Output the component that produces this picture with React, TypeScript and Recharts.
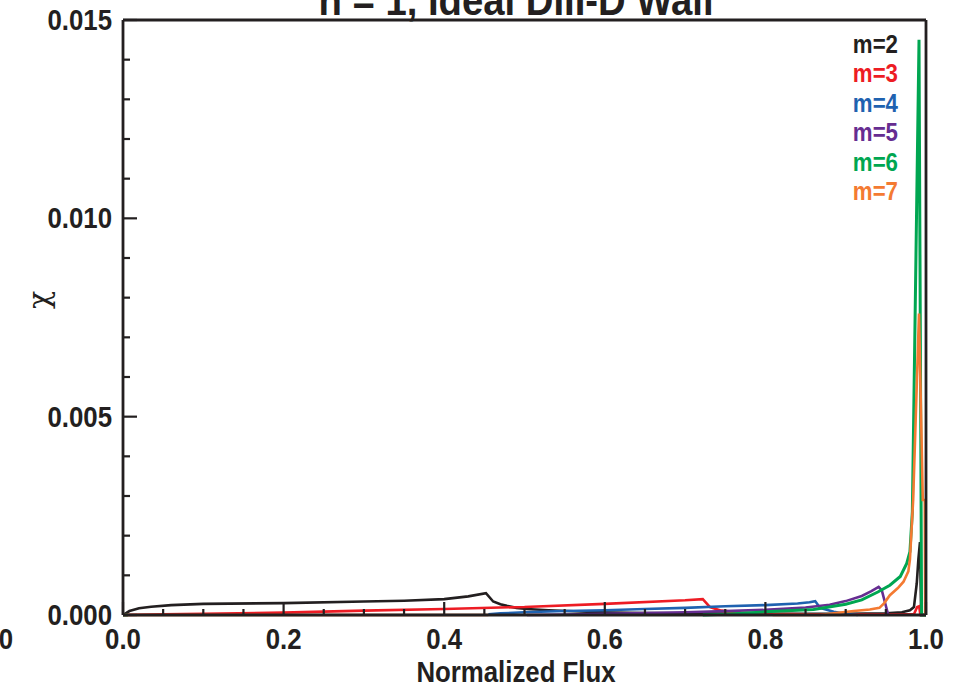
import { LineChart, Line, XAxis, YAxis } from "recharts";

// chi profiles vs normalized flux, one array per poloidal harmonic m
const m2: [number, number | null][] = [
  [0, 0], [0.008, 0.0001], [0.02, 0.00017], [0.035, 0.00021], [0.06, 0.00025],
  [0.1, 0.00028], [0.2, 0.0003], [0.3, 0.00034], [0.35, 0.00036], [0.4, 0.0004],
  [0.43, 0.00047], [0.452, 0.00055], [0.461, 0.00034], [0.47, 0.00027],
  [0.478, 0.00023], [0.49, 0.00018], [0.503, 0.00015], [0.53, 0.00012],
  [0.553, 0.0001], [0.594, 0.00007], [0.65, 0.00005], [0.7, 0.00004],
  [0.8, 0.00003], [0.9, 0.00003], [0.95, 0.00004], [0.97, 0.00007],
  [0.98, 0.00012], [0.985, 0.0002], [0.9885, 0.0008], [0.9905, 0.0014],
  [0.9925, 0.00184], [0.9935, 0.0006], [0.994, 0], [1.0, 0],
];
const m3: [number, number | null][] = [
  [0, 0], [0.05, 0.00002], [0.1, 0.00003], [0.2, 0.00006], [0.3, 0.00011],
  [0.4, 0.00015], [0.47, 0.00019], [0.5, 0.0002], [0.6, 0.00028], [0.7, 0.00037],
  [0.722, 0.0004], [0.731, 0.0002], [0.745, 0.00011], [0.77, 0.00006],
  [0.8, 0.00003], [0.85, 0.00002], [0.9, 0.00002], [0.985, 0.00002],
  [0.989, 0.0002], [0.9915, 0.00022], [0.993, 0], [1.0, 0],
];
const m4: [number, number | null][] = [
  [0.455, 0.00002], [0.47, 0.00004], [0.5, 0.00007], [0.55, 0.0001],
  [0.6, 0.00012], [0.65, 0.00015], [0.7, 0.00018], [0.75, 0.00022],
  [0.8, 0.00025], [0.84, 0.00029], [0.855, 0.00032], [0.862, 0.00035],
  [0.868, 0.00018], [0.885, 0.00008], [0.9, 0.00003], [0.915, 0],
];
const m5: [number, number | null][] = [
  [0.503, 0], [0.55, 0.00001], [0.6, 0.00003], [0.65, 0.00005], [0.7, 0.00007],
  [0.75, 0.0001], [0.8, 0.00013], [0.85, 0.00019], [0.88, 0.00026],
  [0.9, 0.00035], [0.92, 0.00048], [0.932, 0.0006], [0.941, 0.00071],
  [0.945, 0.00062], [0.953, 0],
];
const m6: [number, number | null][] = [
  [0, 0], [0.006, 0], [0.01, null], [0.722, 0], [0.75, 0.00002], [0.8, 0.00008],
  [0.86, 0.00014], [0.9, 0.00027], [0.92, 0.00038], [0.94, 0.00058],
  [0.955, 0.00075], [0.968, 0.00097], [0.976, 0.0013], [0.98, 0.0016],
  [0.983, 0.0026], [0.9913, 0.0145], [0.9945, 0], [1.0, 0],
];
const m7: [number, number | null][] = [
  [0, 0], [0.455, 0], [0.46, null], [0.809, 0], [0.868, 0], [0.885, 0.00004],
  [0.91, 0.0001], [0.93, 0.00014], [0.942, 0.00018], [0.948, 0.0003],
  [0.955, 0.0005], [0.965, 0.00068], [0.972, 0.00084], [0.978, 0.0011],
  [0.98, 0.0014], [0.984, 0.0029], [0.9913, 0.0076], [0.996, 0.0029],
  [0.9985, 0.0029], [0.999, 0],
];

const xTicks = [
  0, 0.05, 0.1, 0.15, 0.2, 0.25, 0.3, 0.35, 0.4, 0.45, 0.5,
  0.55, 0.6, 0.65, 0.7, 0.75, 0.8, 0.85, 0.9, 0.95, 1.0,
];
const xMajor = [0, 0.2, 0.4, 0.6, 0.8, 1.0];
const xLabels = ["0.0", "0.2", "0.4", "0.6", "0.8", "1.0"];
const yTicks = [
  0, 0.001, 0.002, 0.003, 0.004, 0.005, 0.006, 0.007,
  0.008, 0.009, 0.01, 0.011, 0.012, 0.013, 0.014, 0.015,
];
const yMajor = [0, 0.005, 0.01, 0.015];
const yLabels = ["0.000", "0.005", "0.010", "0.015"];

const series = [
  { name: "m=2", data: m2, color: "#231f20", width: 2.6 },
  { name: "m=3", data: m3, color: "#ed1c24", width: 2.6 },
  { name: "m=4", data: m4, color: "#1f62b0", width: 2.6 },
  { name: "m=5", data: m5, color: "#662d91", width: 2.6 },
  { name: "m=6", data: m6, color: "#00a651", width: 3 },
  { name: "m=7", data: m7, color: "#f47a32", width: 2.6 },
];

const W = 963;
const H = 690;
const TOP = 20;
const BOTTOM = 615;
const LEFT = 123;
const RIGHT = 926;
const INK = "#231f20";
const FONT = '"Liberation Sans", Arial, Helvetica, sans-serif';
const SQUEEZE = 0.89;

// bold sans text, narrowed a little like the original Helvetica output
function Narrow(props: any) {
  const { x, y, anchor = "middle", size = 29, children } = props;
  return (
    <text
      transform={`translate(${x} ${y}) scale(${SQUEEZE} 1)`}
      textAnchor={anchor}
      fontFamily={FONT}
      fontWeight="bold"
      fontSize={size}
      fill={INK}
    >
      {children}
    </text>
  );
}

const majorIndex = (v: number, list: number[]) =>
  list.findIndex((m) => Math.abs(m - v) < 1e-9);

function BottomTick(props: any) {
  const { x, payload } = props;
  const i = majorIndex(payload.value, xMajor);
  return (
    <g>
      <line x1={x} x2={x} y1={BOTTOM} y2={BOTTOM - (i >= 0 ? 13 : 6)} stroke={INK} strokeWidth={2.2} />
      {i >= 0 && <Narrow x={x} y={649}>{xLabels[i]}</Narrow>}
    </g>
  );
}

function TopTick(props: any) {
  const { x, payload } = props;
  const i = majorIndex(payload.value, xMajor);
  return <line x1={x} x2={x} y1={TOP} y2={TOP + (i >= 0 ? 13 : 6)} stroke={INK} strokeWidth={2.2} />;
}

function LeftTick(props: any) {
  const { y, payload } = props;
  const i = majorIndex(payload.value, yMajor);
  return (
    <g>
      <line x1={LEFT} x2={LEFT + (i >= 0 ? 14 : 7)} y1={y} y2={y} stroke={INK} strokeWidth={2.2} />
      {i >= 0 && <Narrow x={112} y={y + 10} anchor="end">{yLabels[i]}</Narrow>}
    </g>
  );
}

function RightTick(props: any) {
  const { y, payload } = props;
  const i = majorIndex(payload.value, yMajor);
  return <line x1={RIGHT} x2={RIGHT - (i >= 0 ? 14 : 7)} y1={y} y2={y} stroke={INK} strokeWidth={2.2} />;
}

export default function App() {
  return (
    <div style={{ position: "absolute", left: 0, top: 0, width: W, height: H }}>
      <LineChart width={W} height={H} margin={{ top: 0, right: 0, bottom: 0, left: 0 }}>
        <XAxis
          xAxisId={0}
          dataKey="x"
          type="number"
          domain={[0, 1]}
          ticks={xTicks}
          height={H - BOTTOM}
          tickLine={false}
          tick={BottomTick}
          axisLine={{ stroke: INK, strokeWidth: 2.8 }}
          interval={0}
        />
        <XAxis
          xAxisId="top"
          orientation="top"
          dataKey="x"
          type="number"
          domain={[0, 1]}
          ticks={xTicks}
          height={TOP}
          tickLine={false}
          tick={TopTick}
          axisLine={{ stroke: INK, strokeWidth: 2.8 }}
          interval={0}
        />
        <YAxis
          yAxisId={0}
          type="number"
          domain={[0, 0.015]}
          ticks={yTicks}
          width={LEFT}
          tickLine={false}
          tick={LeftTick}
          axisLine={{ stroke: INK, strokeWidth: 2.8 }}
          interval={0}
        />
        <YAxis
          yAxisId="right"
          orientation="right"
          type="number"
          domain={[0, 0.015]}
          ticks={yTicks}
          width={W - RIGHT}
          tickLine={false}
          tick={RightTick}
          axisLine={{ stroke: INK, strokeWidth: 2.8 }}
          interval={0}
        />
        {series.map((s) => (
          <Line
            key={s.name}
            name={s.name}
            data={s.data.map(([x, y]) => ({ x, y }))}
            dataKey="y"
            type="linear"
            stroke={s.color}
            strokeWidth={s.width}
            dot={false}
            activeDot={false}
            isAnimationActive={false}
          />
        ))}
      </LineChart>
      <div
        style={{
          position: "absolute",
          left: 798,
          top: 30,
          width: 100,
          textAlign: "right",
          fontFamily: FONT,
          fontWeight: "bold",
          fontSize: 25,
          lineHeight: "29.4px",
          transform: `scaleX(${SQUEEZE})`,
          transformOrigin: "right top",
        }}
      >
        {series.map((s) => (
          <div key={s.name} style={{ color: s.color }}>{s.name}</div>
        ))}
      </div>
      <svg
        width={W}
        height={H}
        style={{ position: "absolute", left: 0, top: 0, pointerEvents: "none" }}
      >
        <Narrow x={516} y={15} size={43}>n = 1, Ideal DIII-D Wall</Narrow>
        <Narrow x={13} y={649} anchor="end">0</Narrow>
        <text
          x={38}
          y={300}
          textAnchor="middle"
          dominantBaseline="central"
          fontFamily='"DejaVu Serif", "Liberation Serif", serif'
          fontSize={30}
          fill={INK}
          transform="rotate(-90 38 300)"
        >
          χ
        </text>
        <Narrow x={516} y={682}>Normalized Flux</Narrow>
      </svg>
    </div>
  );
}
